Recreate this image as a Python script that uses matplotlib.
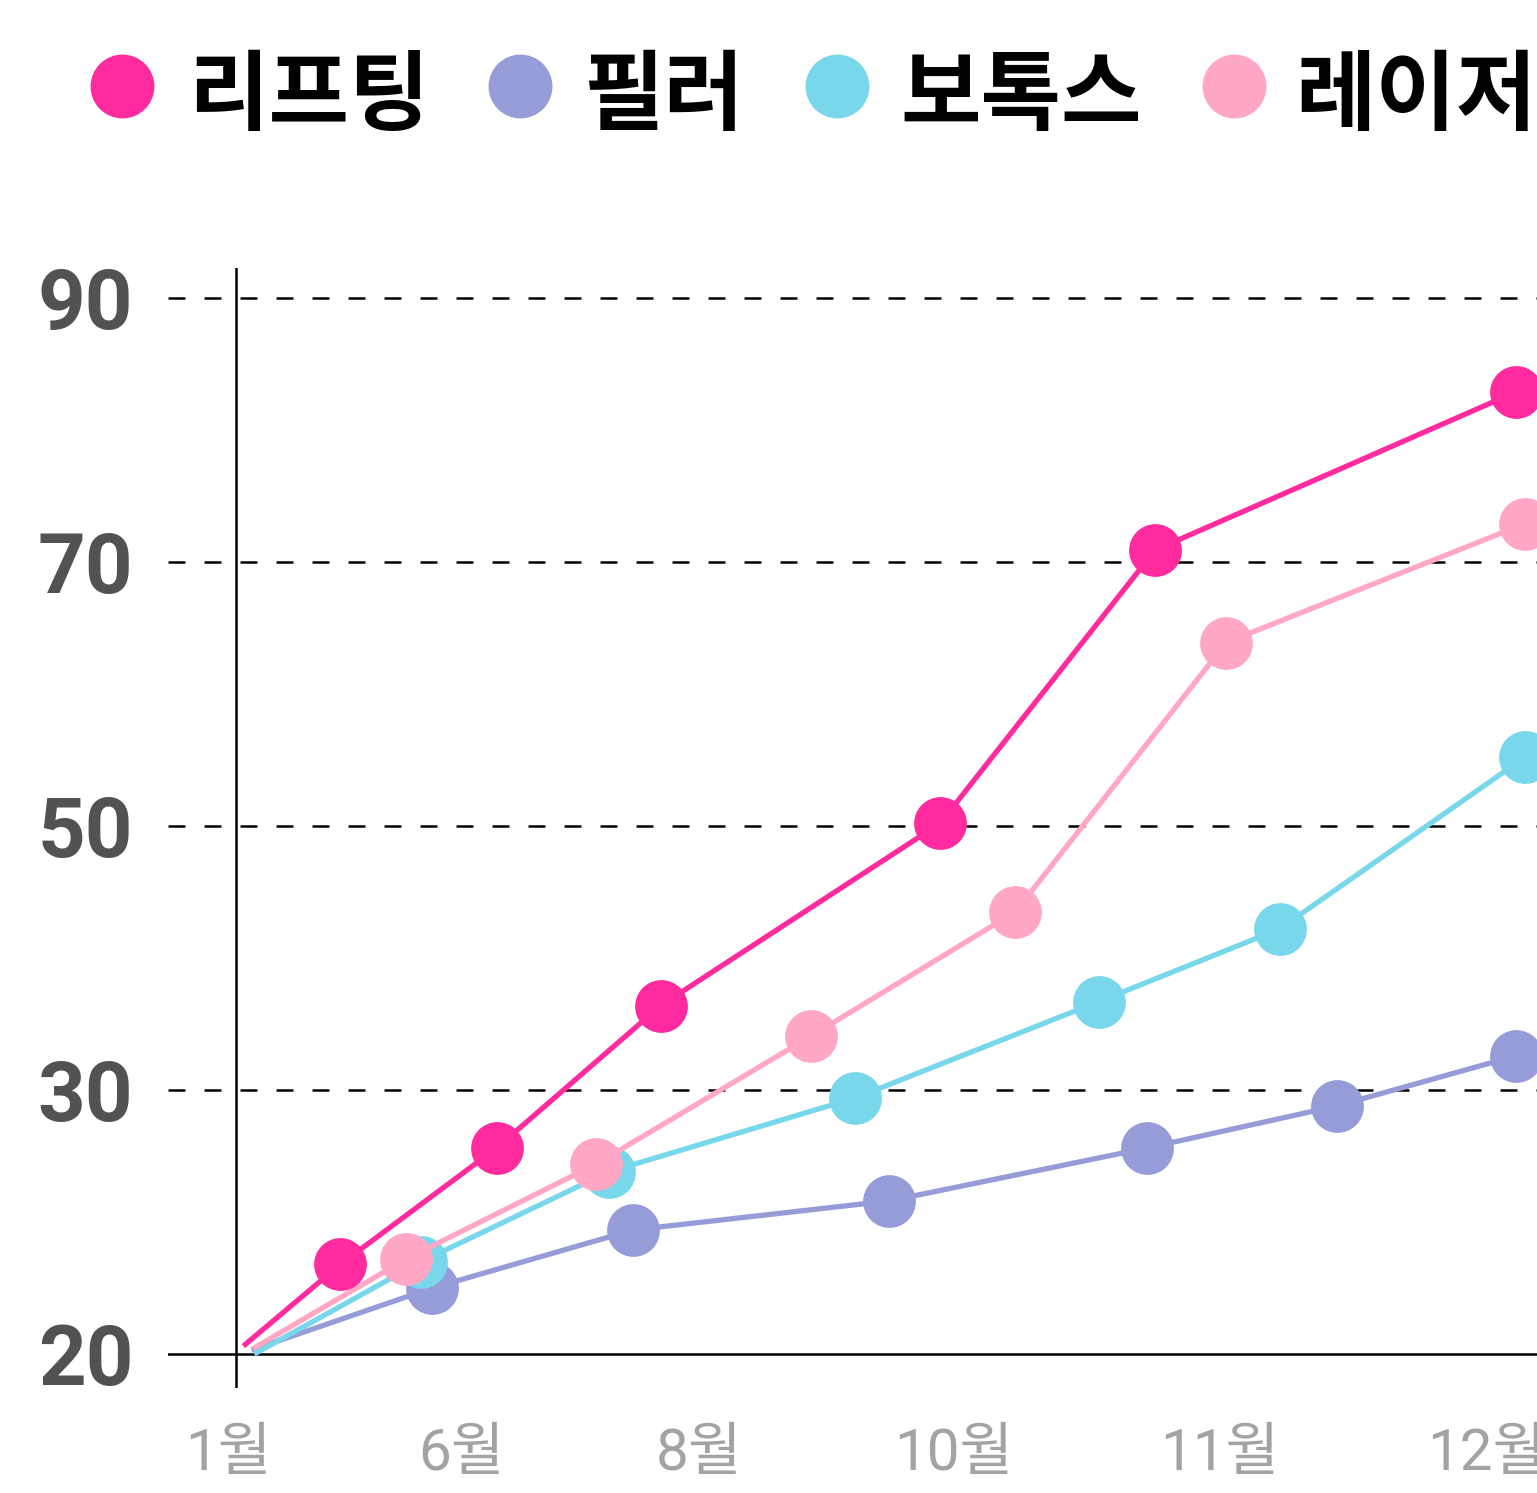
import numpy as np
import matplotlib
matplotlib.use("Agg")
import matplotlib.pyplot as plt
from matplotlib.lines import Line2D

plt.rcParams['font.family'] = ['Noto Sans CJK KR', 'DejaVu Sans']

# ---------------- data ----------------
series_names = ['리프팅', '필러', '보톡스', '레이저']
series_colors = ['#FF2A9E', '#959CD8', '#78D7EA', '#FFA7C5']

lift_x = [5.5, 12.6, 24.0, 36.0, 56.4, 72.1, 98.5]
lift_y = [20.3, 23.4, 27.8, 36.4, 50.2, 70.9, 82.9]

filler_x = [6.1, 19.3, 34.0, 52.7, 71.5, 85.4, 98.5]
filler_y = [20.15, 22.5, 24.7, 25.8, 27.8, 29.4, 32.6]

botox_x = [6.3, 18.5, 32.2, 50.2, 68.0, 81.2, 99.1]
botox_y = [20.0, 23.5, 26.9, 29.7, 36.7, 42.2, 55.2]

laser_x = [6.2, 17.4, 31.3, 47.0, 61.9, 77.3, 99.1]
laser_y = [20.2, 23.6, 27.2, 34.1, 43.5, 63.9, 72.9]

x_tick_pos = [4.4, 21.4, 38.8, 57.4, 76.8, 96.3]
x_tick_labels = ['1월', '6월', '8월', '10월', '11월', '12월']
y_ticks = [20, 30, 50, 70, 90]
y_axis_x = 5.0

# ---------------- piecewise y scale ----------------
yt = np.array(y_ticks, dtype=float)
yi = np.arange(len(yt), dtype=float)

def fwd(v):
    v = np.asarray(v, dtype=float)
    out = np.interp(v, yt, yi)
    lo = v < yt[0]
    hi = v > yt[-1]
    out = np.where(lo, (v - yt[0]) / (yt[1] - yt[0]), out)
    out = np.where(hi, yi[-1] + (v - yt[-1]) / (yt[-1] - yt[-2]), out)
    return out

def inv(i):
    i = np.asarray(i, dtype=float)
    out = np.interp(i, yi, yt)
    out = np.where(i < 0, yt[0] + i * (yt[1] - yt[0]), out)
    out = np.where(i > yi[-1], yt[-1] + (i - yi[-1]) * (yt[-1] - yt[-2]), out)
    return out

# ---------------- figure ----------------
W, H = 1537, 1493
fig = plt.figure(figsize=(W / 100, H / 100), dpi=100)
ax = fig.add_axes([168 / W, 1 - 1388 / H, (W - 168) / W, (1388 - 268) / H])
ax.set_yscale('function', functions=(fwd, inv))
ax.set_xlim(0, 100)
ax.set_ylim(inv(-34 / 264), inv(4 + 30 / 264))

for s in ax.spines.values():
    s.set_visible(False)

# grid / axis lines
for t in y_ticks[1:]:
    ax.axhline(t, color='black', lw=1.8, dashes=(6.8, 7.6), zorder=0)
ax.axhline(y_ticks[0], color='black', lw=1.8, zorder=0)
ax.axvline(y_axis_x, color='black', lw=1.8, zorder=0)

all_x = [lift_x, filler_x, botox_x, laser_x]
all_y = [lift_y, filler_y, botox_y, laser_y]
zorders = [5, 2, 3, 4]
for xs, ys, c, z in zip(all_x, all_y, series_colors, zorders):
    ax.plot(xs, ys, color=c, lw=3.8, marker='o', ms=38, mec='none',
            markevery=list(range(1, len(xs))), zorder=z, clip_on=False,
            solid_capstyle='butt')

ax.set_yticks(y_ticks)
ax.set_yticklabels([str(t) for t in y_ticks], fontsize=60, fontweight='bold',
                   color='#525252', family=['Roboto', 'Noto Sans CJK KR'])
ax.set_xticks(x_tick_pos)
ax.set_xticklabels(x_tick_labels, fontsize=42, color='#A3A3A3',
                   fontweight='normal', family=['Roboto', 'Noto Sans CJK KR'])
ax.tick_params(axis='y', length=0, pad=25)
ax.tick_params(axis='x', length=0, pad=28)

# ---------------- legend (manual) ----------------
leg_marker_x = [122, 520, 837, 1234]
leg_text_x = [188, 583, 900, 1295]
leg_y = 88
for mx, tx, name, c in zip(leg_marker_x, leg_text_x, series_names, series_colors):
    fig.add_artist(Line2D([mx / W], [1 - 86 / H], marker='o', ms=46,
                          color=c, mec='none', transform=fig.transFigure))
    fig.text(tx / W, 1 - leg_y / H, name, fontsize=63, fontweight='bold',
             color='black', ha='left', va='center_baseline')

fig.savefig('out.png', dpi=100)
